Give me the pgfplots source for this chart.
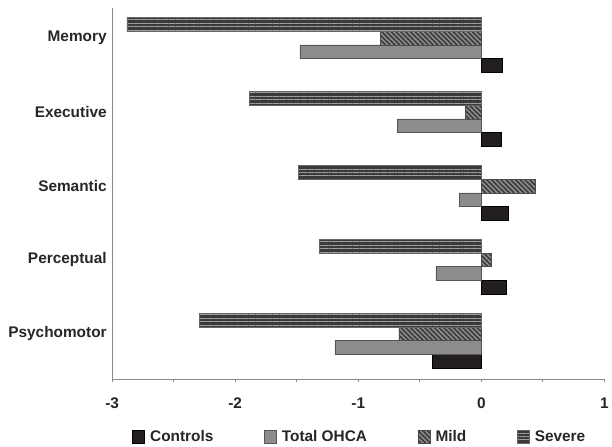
\documentclass[border=0pt]{standalone}
\usepackage{fontspec}
\setmainfont{Liberation Sans}
\usepackage{pgfplots}
\pgfplotsset{compat=1.18}
\usetikzlibrary{patterns.meta}
\definecolor{ctrl}{HTML}{231F20}
\definecolor{tot}{HTML}{8C8C8C}
\definecolor{totb}{HTML}{555555}
\definecolor{mildbg}{HTML}{8E8E8E}
\definecolor{mildln}{HTML}{3A3A3A}
\definecolor{sevbg}{HTML}{3A3A3A}
\definecolor{sevln}{HTML}{A0A0A0}
\definecolor{axgray}{HTML}{8A8A8A}
\begin{document}
\begin{tikzpicture}
\begin{axis}[
  xbar=0pt, bar width=13.7pt,
  scale only axis, width=496pt, height=374pt,
  at={(0pt,0pt)}, anchor=south west,
  xmin=-3, xmax=1, ymin=-0.52, ymax=4.5,
  axis lines*=left,
  axis line style={axgray, line width=0.8pt, -},
  ytick={0,1,2,3,4},
  yticklabels={Psychomotor,Perceptual,Semantic,Executive,Memory},
  yticklabel style={font=\bfseries\fontsize{15.5}{18}\selectfont, text=black!85, yshift=7pt, xshift=1pt},
  y tick style={draw=none},
  xtick={-3,-2,-1,0,1},
  xticklabels={-3,-2,-1,0,1},
  minor xtick={-2.5,-1.5,-0.5,0.5},
  xticklabel style={font=\bfseries\fontsize{15.5}{18}\selectfont, text=black!85, yshift=-12pt},
  tick align=outside,
  major tick length=3pt, minor tick length=3pt,
  x tick style={axgray, line width=0.8pt},
  every axis plot post/.append style={
    legend image code/.code={\draw[##1] (0pt,-6.5pt) rectangle (12pt,6.5pt);}},
  legend columns=4,
  legend style={draw=none, fill=none, at={(0.503,-0.155)}, anchor=center,
    font=\bfseries\fontsize{15.5}{18}\selectfont, text=black!85,
    /tikz/every even column/.append style={column sep=49pt},
    /tikz/every odd column/.append style={column sep=3.5pt}},
]
\addplot[fill=ctrl, draw=black, line width=0.5pt] coordinates
  {(-0.40,0) (0.20,1) (0.22,2) (0.165,3) (0.17,4)};
\addlegendentry{Controls}
\addplot[fill=tot, draw=totb, line width=0.5pt] coordinates
  {(-1.19,0) (-0.37,1) (-0.18,2) (-0.685,3) (-1.475,4)};
\addlegendentry{Total OHCA}
\addplot[fill=mildbg, draw=black!70, line width=0.5pt,
  postaction={pattern={Lines[angle=-45,distance=3.4pt,line width=1.6pt]}, pattern color=mildln}] coordinates
  {(-0.67,0) (0.08,1) (0.44,2) (-0.13,3) (-0.82,4)};
\addlegendentry{Mild}
\addplot[fill=sevbg, draw=black!60, line width=0.5pt,
  postaction={pattern={Lines[angle=0,distance=3.5pt,line width=1pt]}, pattern color=sevln}] coordinates
  {(-2.29,0) (-1.315,1) (-1.485,2) (-1.885,3) (-2.88,4)};
\addlegendentry{Severe}
\end{axis}
\path[use as bounding box] (-113pt,-65pt) rectangle (499pt,382pt);
\end{tikzpicture}
\end{document}
